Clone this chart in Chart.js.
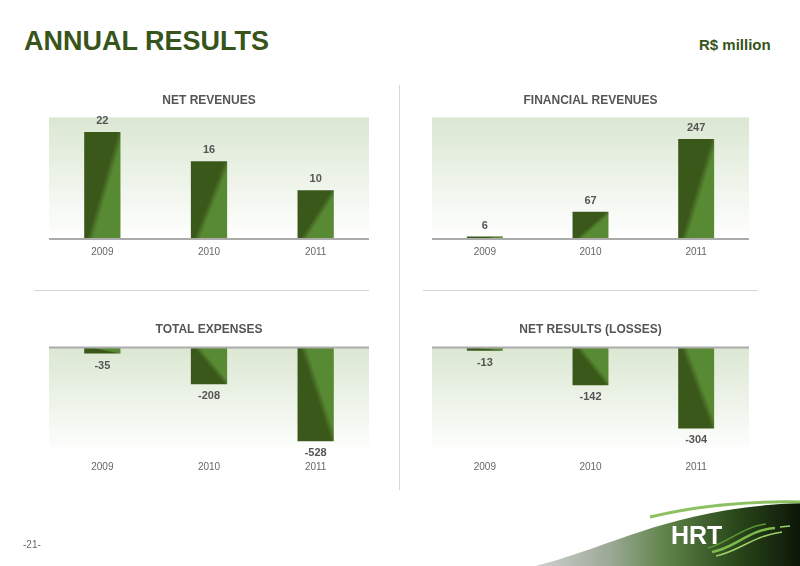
<!DOCTYPE html>
<html>
<head>
<meta charset="utf-8">
<script src="https://cdn.jsdelivr.net/npm/chart.js@4/dist/chart.umd.min.js"></script>
<style>
  body { margin: 0; background: #fff; font-family: "Liberation Sans", Arial, sans-serif; }
  #page { position: relative; width: 800px; height: 566px; overflow: hidden; }
  #page canvas { position: absolute; }
  .title { position: absolute; left: 24px; top: 26px; font-size: 27px; font-weight: bold; color: #37541a; }
  .unit { position: absolute; left: 699px; top: 36px; font-size: 15px; font-weight: bold; color: #37541a; }
  .pageno { position: absolute; left: 23px; top: 539px; font-size: 10px; color: #666; }
  .rule { position: absolute; background: #d6d6d6; }
</style>
</head>
<body>
<div id="page">
  <div class="title">ANNUAL RESULTS</div>
  <div class="unit">R$ million</div>
  <div class="rule" style="left:399px; top:85px; width:1px; height:405px;"></div>
  <div class="rule" style="left:34px; top:290px; width:335px; height:1px;"></div>
  <div class="rule" style="left:423px; top:290px; width:335px; height:1px;"></div>

  <canvas id="netRevenues" width="370" height="186" style="left:30px; top:84px;"></canvas>
  <canvas id="financialRevenues" width="370" height="186" style="left:410px; top:84px;"></canvas>
  <canvas id="totalExpenses" width="370" height="172" style="left:30px; top:313px;"></canvas>
  <canvas id="netResults" width="370" height="172" style="left:410px; top:313px;"></canvas>

  <svg width="800" height="566" style="position:absolute; left:0; top:0;">
    <defs>
      <linearGradient id="swoosh" x1="530" y1="0" x2="800" y2="0" gradientUnits="userSpaceOnUse">
        <stop offset="0" stop-color="#d4d4d4"/>
        <stop offset="0.3" stop-color="#9aa894"/>
        <stop offset="0.5" stop-color="#5f8449"/>
        <stop offset="0.75" stop-color="#2c4a1c"/>
        <stop offset="1" stop-color="#0c1608"/>
      </linearGradient>
    </defs>
    <path d="M535 566 C610 548 670 508 800 503 L800 566 Z" fill="url(#swoosh)"/>
    <path d="M650 517 C700 505 750 501 800 502" fill="none" stroke="#8cc063" stroke-width="3"/>
    <text x="671" y="544" font-family="Liberation Sans, Arial" font-weight="bold" font-size="25" fill="#fff">HRT</text>
    <path d="M712 552 C735 548 748 530 775 528" fill="none" stroke="#7dbb4c" stroke-width="2.5"/>
    <path d="M716 556 C740 551 752 536 782 532" fill="none" stroke="#9fd26a" stroke-width="1.5"/>
    <path d="M708 548 C728 543 742 527 766 524" fill="none" stroke="#5e9a36" stroke-width="1.5"/>
    <path d="M780 527 L790 526" stroke="#9fd26a" stroke-width="1.5"/>
  </svg>
  <div class="pageno">-21-</div>
</div>

<script>
const years = ['2009', '2010', '2011'];
const netRevenues = [22, 16, 10];
const financialRevenues = [6, 67, 247];
const totalExpenses = [-35, -208, -528];
const netResults = [-13, -142, -304];

const DARK = '#3a5819';
const LIGHT = '#588a34';

// dark on the left, lighter swoosh toward the bottom right (top right for negative bars)
function barFill(context) {
  const chart = context.chart;
  if (!chart.chartArea || context.type !== 'data') return DARK;
  const xs = chart.scales.x, ys = chart.scales.y;
  const v = context.raw;
  const cx = xs.getPixelForValue(context.dataIndex);
  const w = xs.width / years.length * 0.34;
  const left = cx - w / 2;
  const y0 = ys.getPixelForValue(0);
  const y1 = ys.getPixelForValue(v);
  const h = Math.max(Math.abs(y0 - y1), 1);
  const sy = v >= 0 ? 1 : -1;
  const dx = h, dy = 0.85 * w * sy;
  const len = Math.sqrt(dx * dx + dy * dy);
  const reach = 1.85 * w * h / len;
  const ex = left + dx / len * reach;
  const ey = y1 + dy / len * reach;
  const g = chart.ctx.createLinearGradient(left, y1, ex, ey);
  g.addColorStop(0, DARK);
  g.addColorStop(0.5, DARK);
  g.addColorStop(0.6, LIGHT);
  g.addColorStop(1, LIGHT);
  return g;
}

const panelPlugin = {
  id: 'panel',
  beforeDraw(chart) {
    const ctx = chart.ctx, a = chart.chartArea;
    const g = ctx.createLinearGradient(0, a.top, 0, a.bottom);
    g.addColorStop(0, '#dbe7d2');
    g.addColorStop(1, '#ffffff');
    ctx.save();
    ctx.fillStyle = g;
    ctx.fillRect(a.left, a.top, a.width, a.height);
    ctx.restore();
  },
  afterDatasetsDraw(chart) {
    const ctx = chart.ctx, a = chart.chartArea;
    const y0 = chart.scales.y.getPixelForValue(0);
    ctx.save();
    ctx.strokeStyle = '#ababab';
    ctx.lineWidth = 2;
    ctx.beginPath();
    ctx.moveTo(a.left, y0);
    ctx.lineTo(a.right, y0);
    ctx.stroke();

    ctx.fillStyle = '#555';
    ctx.font = 'bold 11px "Liberation Sans", Arial, sans-serif';
    ctx.textAlign = 'center';
    ctx.textBaseline = 'middle';
    const values = chart.data.datasets[0].data;
    chart.getDatasetMeta(0).data.forEach((bar, i) => {
      const v = values[i];
      const y = v >= 0 ? bar.y - 11 : bar.y + 12;
      ctx.fillText(String(v), bar.x, y);
    });
    ctx.restore();
  }
};

function makeChart(id, title, values, yMin, yMax, pad, titlePad) {
  return new Chart(document.getElementById(id), {
    type: 'bar',
    data: {
      labels: years,
      datasets: [{
        data: values,
        backgroundColor: barFill,
        borderWidth: 0,
        categoryPercentage: 1,
        barPercentage: 0.34,
      }],
    },
    options: {
      responsive: false,
      animation: false,
      layout: { padding: pad },
      plugins: {
        legend: { display: false },
        tooltip: { enabled: false },
        title: {
          display: true,
          text: title,
          color: '#555',
          font: { family: '"Liberation Sans", Arial, sans-serif', size: 12, weight: 'bold' },
          padding: titlePad,
        },
      },
      scales: {
        x: {
          grid: { display: false, drawTicks: false },
          border: { display: false },
          ticks: {
            color: '#666',
            padding: 7,
            font: { family: '"Liberation Sans", Arial, sans-serif', size: 10 },
          },
          afterFit: (axis) => { axis.height = 30; },
        },
        y: {
          display: false,
          min: yMin,
          max: yMax,
        },
      },
    },
    plugins: [panelPlugin],
  });
}

makeChart('netRevenues', 'NET REVENUES', netRevenues, 0, 25,
  { left: 19, right: 31, top: 0, bottom: 1 }, { top: 9, bottom: 10 });
makeChart('financialRevenues', 'FINANCIAL REVENUES', financialRevenues, 0, 300,
  { left: 22, right: 31, top: 0, bottom: 1 }, { top: 9, bottom: 10 });
makeChart('totalExpenses', 'TOTAL EXPENSES', totalExpenses, -600, 0,
  { left: 19, right: 31, top: 0, bottom: 1 }, { top: 9, bottom: 11 });
makeChart('netResults', 'NET RESULTS (LOSSES)', netResults, -400, 0,
  { left: 22, right: 31, top: 0, bottom: 1 }, { top: 9, bottom: 11 });
</script>
</body>
</html>
